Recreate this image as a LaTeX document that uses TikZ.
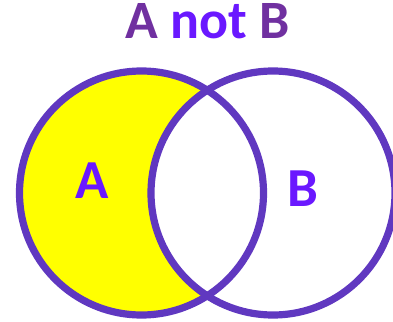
\documentclass[tikz,border=0pt]{standalone}
\usepackage{fontspec}
\setmainfont{Carlito}
\usepackage{tikz}
\usetikzlibrary{positioning}
\definecolor{ringpurple}{RGB}{96,56,192}
\definecolor{titlepurple}{RGB}{112,48,160}
\definecolor{labelviolet}{RGB}{106,24,255}
\definecolor{setyellow}{RGB}{255,255,0}

\begin{document}
\begin{tikzpicture}[x=1pt, y=-1pt]
        \useasboundingbox (0,0) rectangle (393,321);
        % set A minus set B
        \fill[setyellow] (141.5,193) circle (122);
        \begin{scope}
          \clip (141.5,193) circle (122);
          \fill[white] (273,193) circle (122);
        \end{scope}
        \draw[ringpurple, line width=7.2pt] (141.5,193) circle (122);
        \draw[ringpurple, line width=7.2pt] (273,193) circle (122);
        \node[anchor=base, inner sep=0pt, font=\fontsize{54}{60}\selectfont\bfseries] (title) at (208,39)
          {\textcolor{titlepurple}{A} \textcolor{labelviolet}{not} \textcolor{titlepurple}{B}};
        \node[anchor=base, labelviolet, font=\fontsize{55}{60}\selectfont\bfseries] (labelA) at (92,198) {A};
        \node[anchor=base, labelviolet, font=\fontsize{55}{60}\selectfont\bfseries] (labelB) at (303,206) {B};
      \end{tikzpicture}
\end{document}
